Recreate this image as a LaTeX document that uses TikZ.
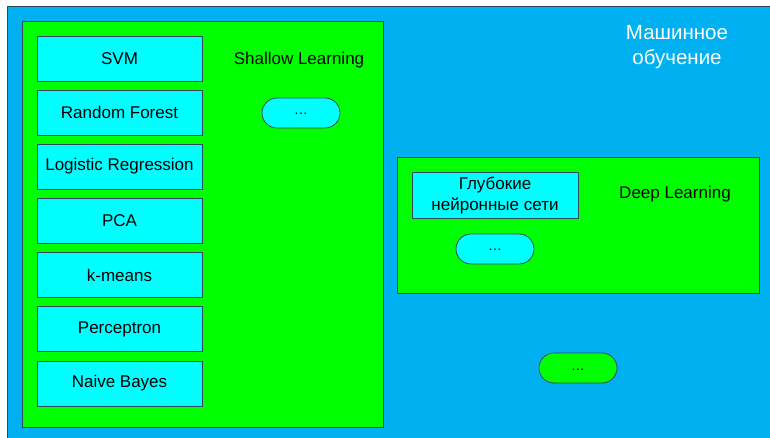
\documentclass[tikz,border=0pt]{standalone}
\usepackage{fontspec}
\setmainfont{Liberation Sans}[Ligatures=NoCommon]
\definecolor{mlblue}{HTML}{00B0F0}
\definecolor{mlgreen}{HTML}{00FF00}
\definecolor{mlcyan}{HTML}{00FFFF}
\definecolor{edge}{HTML}{2E4A5A}
\newcommand{\tdots}{{.}\kern0.5pt{.}\kern0.5pt{.}}
\begin{document}
\begin{tikzpicture}[x=1pt,y=-1pt,
  every node/.style={font=\fontsize{17}{20}\selectfont, inner sep=0pt, outer sep=0pt},
  area/.style={draw=edge, line width=0.9pt},
  algbox/.style={draw=edge, line width=0.8pt, fill=mlcyan, minimum width=165pt, minimum height=45pt, anchor=north west},
  pill/.style={draw=edge, line width=0.8pt, rounded corners=15pt, minimum width=78pt, minimum height=30pt, anchor=north west, font=\fontsize{14}{16}\selectfont, text height=4pt, text depth=0pt}
]
\useasboundingbox (0,0) rectangle (770,438);
\clip (0,0) rectangle (770,438);
\fill[white] (0,0) rectangle (770,438);
\draw[area, fill=mlblue] (7,6) rectangle (780,450);
\node[text=white, align=center, font=\fontsize{20.5}{25}\selectfont] (ml) at (677,47) {Машинное\\обучение};

\draw[area, fill=mlgreen] (22,21) rectangle (383,427);
\node (shallow) at (299,60) {Shallow Learning};
\node[algbox] (svm) at (37,36) {SVM};
\node[algbox] (rf) at (37,90) {Random Forest};
\node[algbox] (lr) at (37,144) {Logistic Regression};
\node[algbox] (pca) at (37,198.5) {PCA};
\node[algbox] (km) at (37,252.5) {k-means};
\node[algbox] (perc) at (37,306.5) {Perceptron};
\node[algbox] (nb) at (37,361) {Naive Bayes};
\node[pill, fill=mlcyan] (sdots) at (262,98) {\tdots};

\draw[area, fill=mlgreen] (397,157) rectangle (759,293);
\node (deep) at (675,194) {Deep Learning};
\node[algbox, minimum width=166pt, minimum height=46pt, align=center, font=\fontsize{17}{21}\selectfont] (dnn) at (412,172.5) {Глубокие\\нейронные сети};
\node[pill, fill=mlcyan] (ddots) at (456,234) {\tdots};

\node[pill, fill=mlgreen] (mdots) at (539,353) {\tdots};
\end{tikzpicture}
\end{document}
